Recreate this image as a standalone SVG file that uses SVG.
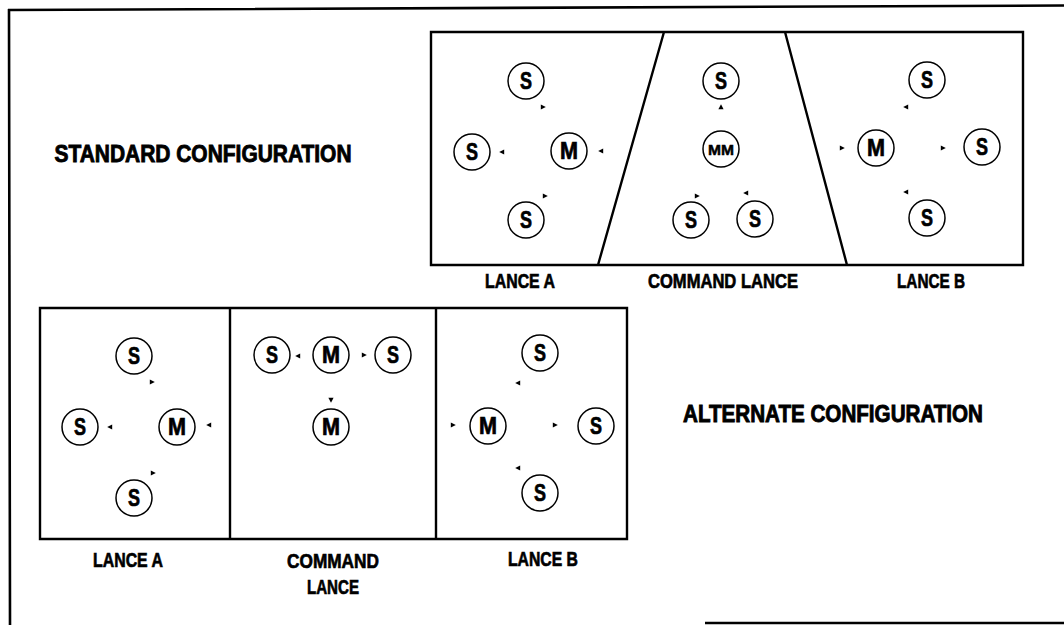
<svg xmlns="http://www.w3.org/2000/svg" width="1064" height="625" viewBox="0 0 1064 625">
<style>
.frame{fill:none;stroke:#000;stroke-width:2.6}
.box{fill:none;stroke:#000;stroke-width:2.4}
.c{fill:#fff;stroke:#000;stroke-width:1.5}
.t{font-family:"Liberation Sans",Arial,sans-serif;font-weight:bold;fill:#000;stroke:#000;stroke-width:0.7;text-anchor:middle}
.s{font-size:23px}
.mm{font-size:15px;stroke-width:0.5}
.lbl{font-size:21px}
.ttl{font-size:24px;stroke-width:0.9}
.ah{fill:#000}
</style>
<defs>
<path id="ar" d="M-2.2,-2.6 L2.8,0 L-2.2,2.6 Z"/>
</defs>
<rect width="1064" height="625" fill="#fff"/>
<g id="outer-frame">
<path class="frame" d="M8,10 L1064,5.5 M9,9 L10,625 M705,623 L1064,623"/>
</g>
<g id="standard-title"><text class="t ttl" x="203" y="162" textLength="297" lengthAdjust="spacingAndGlyphs">STANDARD CONFIGURATION</text></g>
<g id="alternate-title"><text class="t ttl" x="833" y="422" textLength="300" lengthAdjust="spacingAndGlyphs">ALTERNATE CONFIGURATION</text></g>
<g id="standard-box">
<path class="box" d="M431,32 L1023,32 L1023,265 L431,265 Z M664,32 L598,265 M785,32 L847,265"/>
<text class="t lbl" x="520" y="288" textLength="70" lengthAdjust="spacingAndGlyphs">LANCE A</text>
<text class="t lbl" x="723" y="288" textLength="150" lengthAdjust="spacingAndGlyphs">COMMAND LANCE</text>
<text class="t lbl" x="931" y="288" textLength="68" lengthAdjust="spacingAndGlyphs">LANCE B</text>
</g>
<g id="alternate-box">
<path class="box" d="M40,308 L627,308 L627,539 L40,539 Z M230,308 L230,539 M436,308 L436,539"/>
<text class="t lbl" x="128" y="567" textLength="70" lengthAdjust="spacingAndGlyphs">LANCE A</text>
<text class="t lbl" x="333" y="568" textLength="92" lengthAdjust="spacingAndGlyphs">COMMAND</text>
<text class="t lbl" x="333" y="594" textLength="52" lengthAdjust="spacingAndGlyphs">LANCE</text>
<text class="t lbl" x="543" y="566" textLength="70" lengthAdjust="spacingAndGlyphs">LANCE B</text>
</g>
<g id="std-lance-a">
<g id="n1"><circle class="c" cx="526" cy="81" r="18"/><text class="t s" x="526" y="89" textLength="12" lengthAdjust="spacingAndGlyphs">S</text></g>
<g id="n2"><circle class="c" cx="472" cy="152" r="18"/><text class="t s" x="472" y="160" textLength="12" lengthAdjust="spacingAndGlyphs">S</text></g>
<g id="n3"><circle class="c" cx="569" cy="151" r="18"/><text class="t s" x="569" y="159" textLength="18" lengthAdjust="spacingAndGlyphs">M</text></g>
<g id="n4"><circle class="c" cx="526" cy="220" r="18"/><text class="t s" x="526" y="228" textLength="12" lengthAdjust="spacingAndGlyphs">S</text></g>
</g>
<g id="std-command">
<g id="n5"><circle class="c" cx="721" cy="81" r="18"/><text class="t s" x="721" y="89" textLength="12" lengthAdjust="spacingAndGlyphs">S</text></g>
<g id="n6"><circle class="c" cx="721" cy="149" r="18"/><text class="t mm" x="721" y="154.5" textLength="26" lengthAdjust="spacingAndGlyphs">MM</text></g>
<g id="n7"><circle class="c" cx="691" cy="220" r="18"/><text class="t s" x="691" y="228" textLength="12" lengthAdjust="spacingAndGlyphs">S</text></g>
<g id="n8"><circle class="c" cx="755" cy="219" r="18"/><text class="t s" x="755" y="227" textLength="12" lengthAdjust="spacingAndGlyphs">S</text></g>
</g>
<g id="std-lance-b">
<g id="n9"><circle class="c" cx="927" cy="80" r="18"/><text class="t s" x="927" y="88" textLength="12" lengthAdjust="spacingAndGlyphs">S</text></g>
<g id="n10"><circle class="c" cx="876" cy="148" r="18"/><text class="t s" x="876" y="156" textLength="18" lengthAdjust="spacingAndGlyphs">M</text></g>
<g id="n11"><circle class="c" cx="982" cy="147" r="18"/><text class="t s" x="982" y="155" textLength="12" lengthAdjust="spacingAndGlyphs">S</text></g>
<g id="n12"><circle class="c" cx="927" cy="218" r="18"/><text class="t s" x="927" y="226" textLength="12" lengthAdjust="spacingAndGlyphs">S</text></g>
</g>
<g id="alt-lance-a">
<g id="n13"><circle class="c" cx="134" cy="356" r="18"/><text class="t s" x="134" y="364" textLength="12" lengthAdjust="spacingAndGlyphs">S</text></g>
<g id="n14"><circle class="c" cx="80" cy="427" r="18"/><text class="t s" x="80" y="435" textLength="12" lengthAdjust="spacingAndGlyphs">S</text></g>
<g id="n15"><circle class="c" cx="177" cy="427" r="18"/><text class="t s" x="177" y="435" textLength="18" lengthAdjust="spacingAndGlyphs">M</text></g>
<g id="n16"><circle class="c" cx="134" cy="498" r="18"/><text class="t s" x="134" y="506" textLength="12" lengthAdjust="spacingAndGlyphs">S</text></g>
</g>
<g id="alt-command">
<g id="n17"><circle class="c" cx="272" cy="355" r="18"/><text class="t s" x="272" y="363" textLength="12" lengthAdjust="spacingAndGlyphs">S</text></g>
<g id="n18"><circle class="c" cx="331" cy="355" r="18"/><text class="t s" x="331" y="363" textLength="18" lengthAdjust="spacingAndGlyphs">M</text></g>
<g id="n19"><circle class="c" cx="393" cy="355" r="18"/><text class="t s" x="393" y="363" textLength="12" lengthAdjust="spacingAndGlyphs">S</text></g>
<g id="n20"><circle class="c" cx="331" cy="427" r="18"/><text class="t s" x="331" y="435" textLength="18" lengthAdjust="spacingAndGlyphs">M</text></g>
</g>
<g id="alt-lance-b">
<g id="n21"><circle class="c" cx="540" cy="353" r="18"/><text class="t s" x="540" y="361" textLength="12" lengthAdjust="spacingAndGlyphs">S</text></g>
<g id="n22"><circle class="c" cx="488" cy="426" r="18"/><text class="t s" x="488" y="434" textLength="18" lengthAdjust="spacingAndGlyphs">M</text></g>
<g id="n23"><circle class="c" cx="596" cy="426" r="18"/><text class="t s" x="596" y="434" textLength="12" lengthAdjust="spacingAndGlyphs">S</text></g>
<g id="n24"><circle class="c" cx="540" cy="493" r="18"/><text class="t s" x="540" y="501" textLength="12" lengthAdjust="spacingAndGlyphs">S</text></g>
</g>
<g id="connectors" class="ah">
<use href="#ar" transform="translate(543,107)"/>
<use href="#ar" transform="translate(502,152) rotate(180)"/>
<use href="#ar" transform="translate(601,151) rotate(180)"/>
<use href="#ar" transform="translate(545,196)"/>
<use href="#ar" transform="translate(721,107) rotate(-90)"/>
<use href="#ar" transform="translate(697,196)"/>
<use href="#ar" transform="translate(746,193) rotate(180)"/>
<use href="#ar" transform="translate(906,107) rotate(180)"/>
<use href="#ar" transform="translate(842,148)"/>
<use href="#ar" transform="translate(943,148)"/>
<use href="#ar" transform="translate(906,192) rotate(180)"/>
<use href="#ar" transform="translate(152,382)"/>
<use href="#ar" transform="translate(110,427) rotate(180)"/>
<use href="#ar" transform="translate(209,425) rotate(180)"/>
<use href="#ar" transform="translate(153,473)"/>
<use href="#ar" transform="translate(298,356) rotate(180)"/>
<use href="#ar" transform="translate(364,355)"/>
<use href="#ar" transform="translate(331,400) rotate(90)"/>
<use href="#ar" transform="translate(518,383) rotate(180)"/>
<use href="#ar" transform="translate(453,425)"/>
<use href="#ar" transform="translate(555,425)"/>
<use href="#ar" transform="translate(518,468) rotate(180)"/>
</g>
</svg>
